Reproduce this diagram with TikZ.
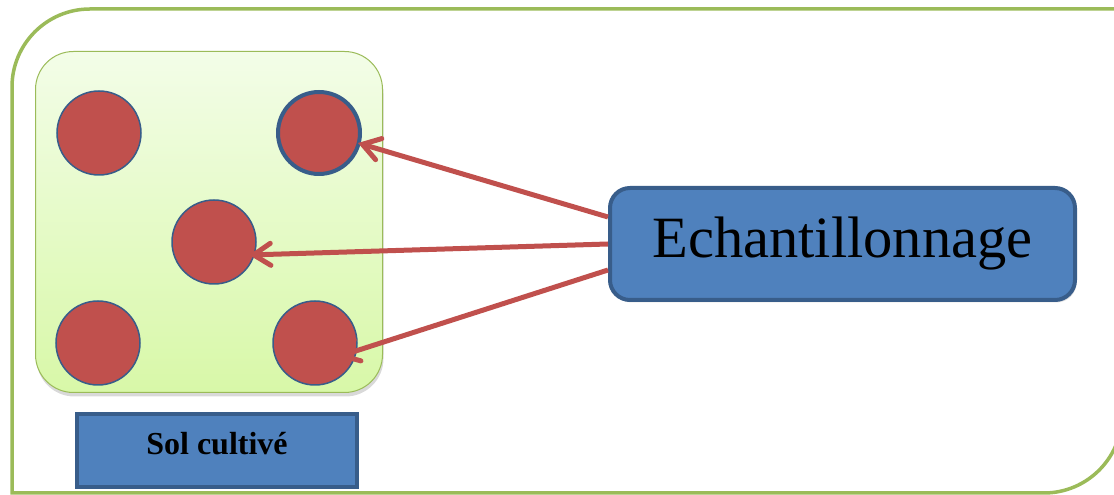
\documentclass[tikz,border=0pt]{standalone}
\usepackage{fontspec}
\setmainfont{Liberation Serif}
\usetikzlibrary{arrows.meta,shadows,calc}
\definecolor{frameGreen}{HTML}{9BBB59}
\definecolor{fillTop}{HTML}{F3FDE8}
\definecolor{fillBot}{HTML}{D8F8A8}
\definecolor{dotRed}{HTML}{C0504D}
\definecolor{boxBlue}{HTML}{4F81BD}
\definecolor{edgeBlue}{HTML}{385D8A}
\tikzset{
  dot/.style={circle,fill=dotRed,draw=edgeBlue,line width=1.5pt,minimum size=84pt,inner sep=0pt},
  bluebox/.style={fill=boxBlue,draw=edgeBlue,inner sep=0pt,
    drop shadow={opacity=0.25,shadow xshift=1.5pt,shadow yshift=-2.5pt}},
  ptr/.style={draw=dotRed,line width=5pt,-{Straight Barb[length=17pt,width=22pt,line cap=round]}}
}
\begin{document}
\begin{tikzpicture}[x=1pt,y=1pt]
\useasboundingbox (0,0) rectangle (1114,495);
\clip (0,0) rectangle (1114,495);
% outer frame
\draw[frameGreen,line width=3.5pt] (12,2) -- (12,408) arc[start angle=180,end angle=90,radius=78]
  -- (1122,486) -- (1122,80) arc[start angle=0,end angle=-90,radius=78] -- cycle;
% field
\node (field) [draw=frameGreen,line width=1pt,rounded corners=38pt,top color=fillTop,bottom color=fillBot,
  minimum width=347pt,minimum height=341pt,
  drop shadow={opacity=0.3,shadow xshift=1pt,shadow yshift=-4pt}] at (209,273) {};
% sampling points
\node (c1) [dot] at (99,362) {};
\node (c2) [dot,line width=4pt,minimum size=82pt] at (319,362) {};
\node (c3) [dot] at (214,253) {};
\node (c4) [dot] at (98,152) {};
\node (c5) [dot] at (315,152) {};
% labels
\node (sol) [bluebox,line width=4pt,minimum width=280pt,minimum height=73pt,text height=22pt,text depth=13pt] at (217,44.5)
  {\fontsize{32pt}{36pt}\selectfont\bfseries Sol cultivé};
\node (ech) [bluebox,line width=4pt,rounded corners=20pt,minimum width=465pt,minimum height=112pt] at (842.5,251)
  {\fontsize{58.5pt}{64pt}\selectfont Echantillonnage};
% arrows
\coordinate (s1) at ($(ech.west)+(0,27)$);
\coordinate (s2) at (ech.west);
\coordinate (s3) at ($(ech.west)+(0,-26)$);
\coordinate (t1) at (358,352);
\coordinate (t2) at (249,240);
\coordinate (t3) at (337,138);
\draw[ptr] (s1) -- (t1);
\draw[ptr] (s2) -- (t2);
\draw[ptr] (s3) -- (t3);
\end{tikzpicture}
\end{document}
